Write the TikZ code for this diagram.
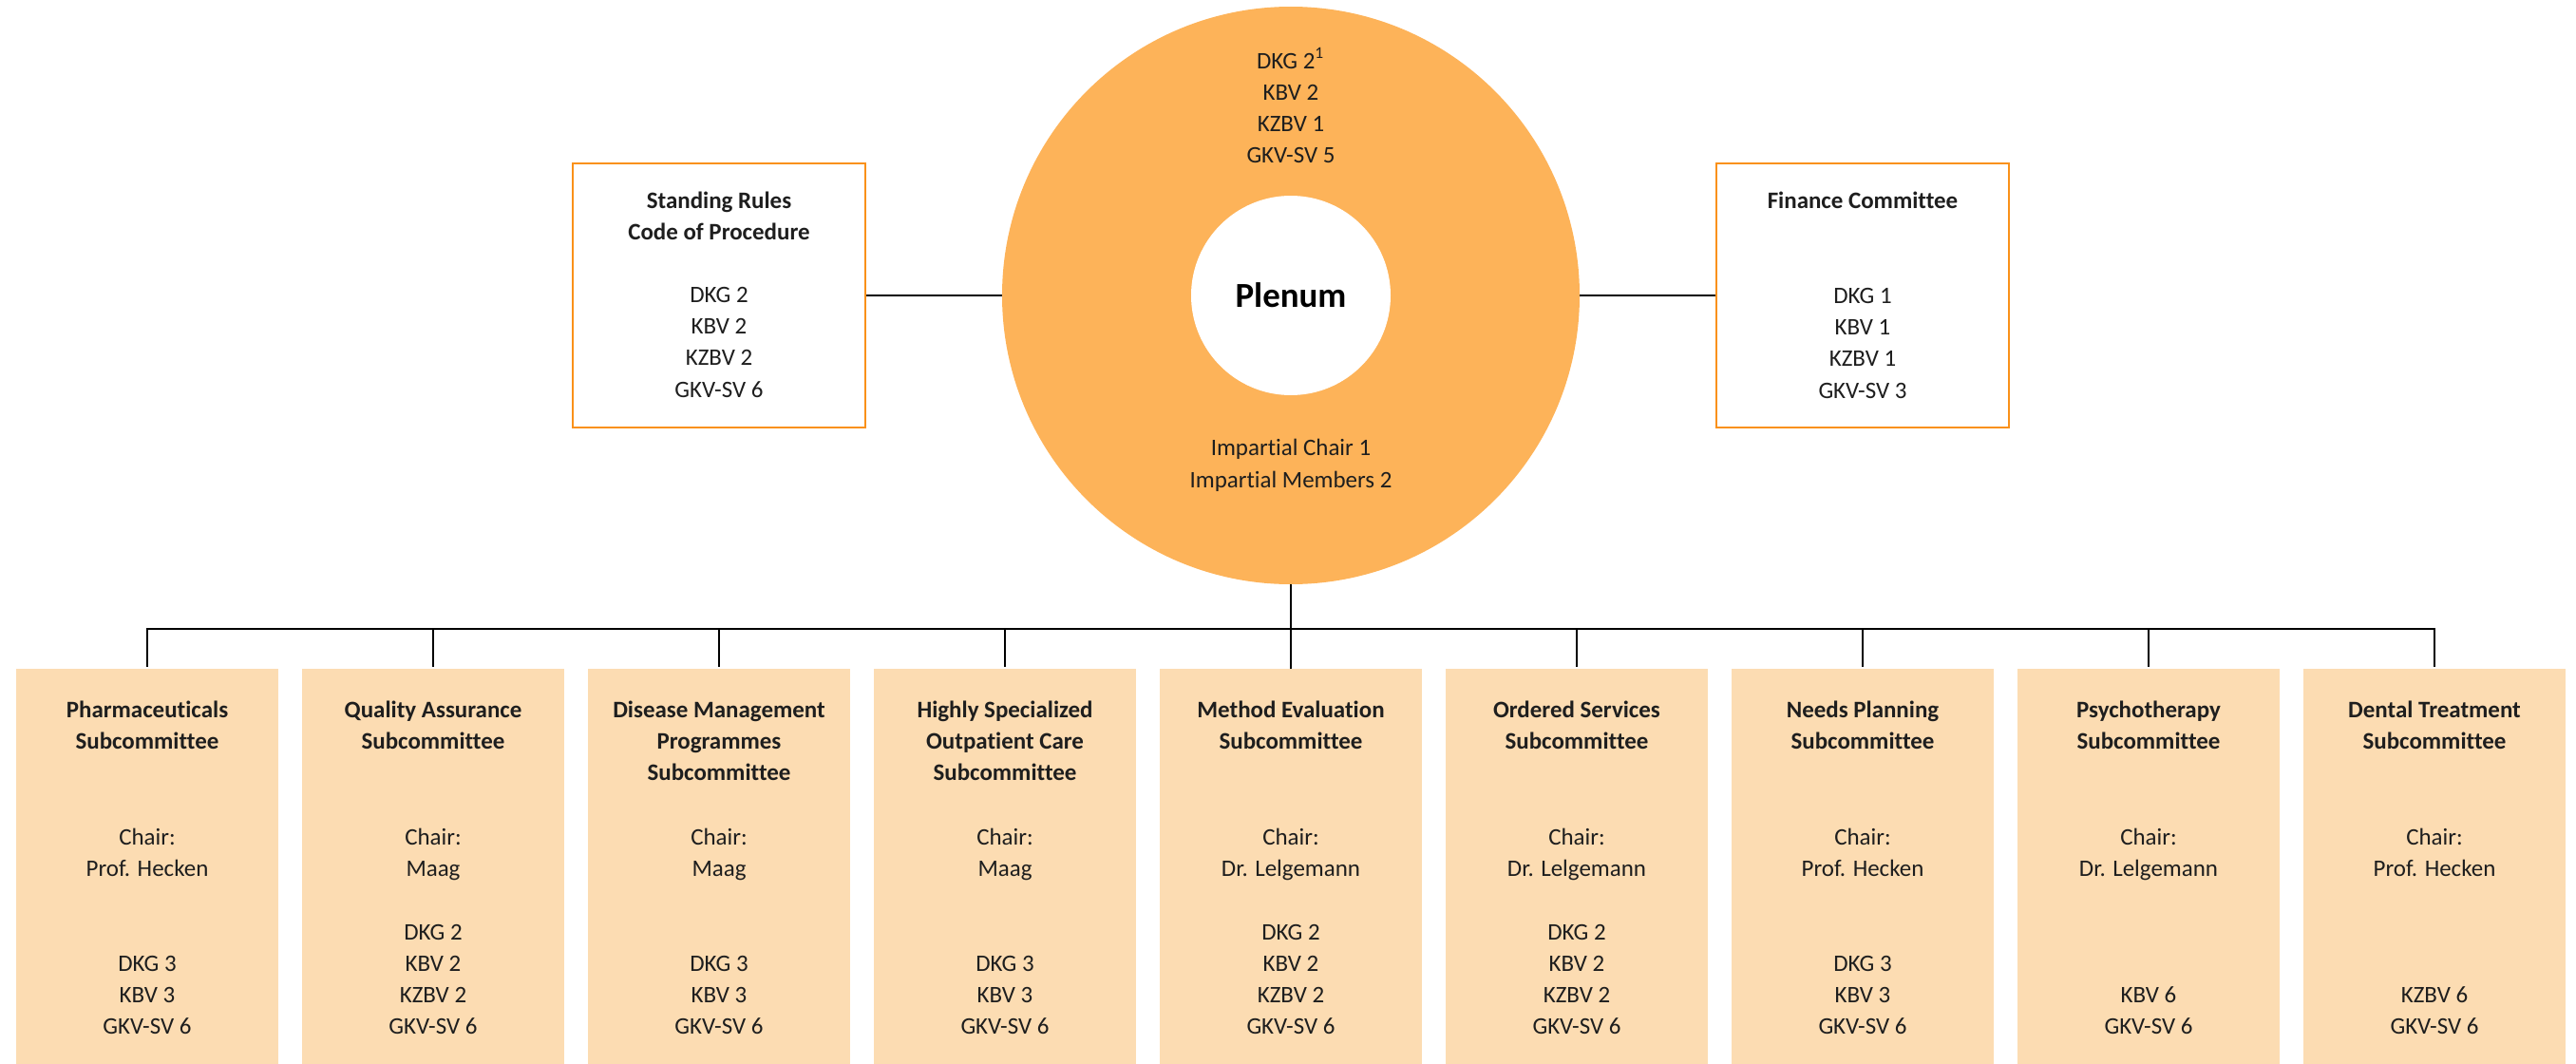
\documentclass[tikz,border=0pt]{standalone}
\usepackage{fontspec}
\setmainfont[Ligatures=NoCommon]{Carlito}
\usepackage{tikz}

\definecolor{plenumorange}{RGB}{253,179,89}
\definecolor{frameorange}{RGB}{250,145,25}
\definecolor{subpeach}{RGB}{252,220,178}
\definecolor{inktext}{RGB}{30,30,30}

\begin{document}
\begin{tikzpicture}[font=\fontsize{7.1}{9.4}\selectfont, text=inktext,
  ring/.style={circle, fill=plenumorange, minimum size=6.08cm, inner sep=0, outer sep=0},
  hole/.style={circle, fill=white, minimum size=2.1cm, inner sep=0},
  frame/.style={draw=frameorange, line width=0.8pt, fill=white, minimum width=3.08cm, minimum height=2.78cm, inner sep=0},
  sub/.style={fill=subpeach, minimum width=2.76cm, minimum height=4.16cm, inner sep=0, outer sep=0, anchor=north},
  head/.style={align=center, inner sep=0, anchor=north, font=\fontsize{7.1}{9.4}\selectfont\bfseries},
  body/.style={align=center, inner sep=0},
  link/.style={draw=black, line width=0.6pt}]
%\draw[help lines] (0,0) grid (27,-11);
\useasboundingbox (0,0) rectangle (27.12,-11.2);

% plenum
\node (ring) [ring] at (13.59,-3.11) {};
\node (plenum) [hole, text=black, font=\fontsize{10.5}{12}\selectfont\bfseries] at (13.59,-3.11) {Plenum};
\node (ringseats) [body, anchor=north] at (13.59,-0.50) {DKG 2\textsuperscript{1}\\KBV 2\\KZBV 1\\GKV-SV 5};
\node (impartial) [body, anchor=north, font=\fontsize{7.1}{9.7}\selectfont] at (13.59,-4.61) {Impartial Chair 1\\Impartial Members 2};

% side committees
\node (rules) [frame] at (7.57,-3.11) {};
\node (ruleshead) [head] at (7.57,-2.01) {Standing Rules\\Code of Procedure};
\node (rulesseats) [body, anchor=north] at (7.57,-3.02) {DKG 2\\KBV 2\\KZBV 2\\GKV-SV 6};
\node (finance) [frame] at (19.61,-3.11) {};
\node (financehead) [head] at (19.61,-2.01) {Finance Committee};
\node (financeseats) [body, anchor=north] at (19.61,-3.03) {DKG 1\\KBV 1\\KZBV 1\\GKV-SV 3};

% subcommittees
\node (pharma) [sub] at (1.55,-7.04) {};
\node (pharmahead) [head] at (1.55,-7.37) {Pharmaceuticals\\Subcommittee};
\node (pharmachair) [body, anchor=north] at (1.55,-8.71) {Chair:\\Prof. Hecken};
\node (pharmaseats) [body, anchor=south] at (1.55,-10.89) {DKG 3\\KBV 3\\GKV-SV 6};

\node (quality) [sub] at (4.56,-7.04) {};
\node (qualityhead) [head] at (4.56,-7.37) {Quality Assurance\\Subcommittee};
\node (qualitychair) [body, anchor=north] at (4.56,-8.71) {Chair:\\Maag};
\node (qualityseats) [body, anchor=south] at (4.56,-10.89) {DKG 2\\KBV 2\\KZBV 2\\GKV-SV 6};

\node (dmp) [sub] at (7.57,-7.04) {};
\node (dmphead) [head] at (7.57,-7.37) {Disease Management\\Programmes\\Subcommittee};
\node (dmpchair) [body, anchor=north] at (7.57,-8.71) {Chair:\\Maag};
\node (dmpseats) [body, anchor=south] at (7.57,-10.89) {DKG 3\\KBV 3\\GKV-SV 6};

\node (asv) [sub] at (10.58,-7.04) {};
\node (asvhead) [head] at (10.58,-7.37) {Highly Specialized\\Outpatient Care\\Subcommittee};
\node (asvchair) [body, anchor=north] at (10.58,-8.71) {Chair:\\Maag};
\node (asvseats) [body, anchor=south] at (10.58,-10.89) {DKG 3\\KBV 3\\GKV-SV 6};

\node (method) [sub] at (13.59,-7.04) {};
\node (methodhead) [head] at (13.59,-7.37) {Method Evaluation\\Subcommittee};
\node (methodchair) [body, anchor=north] at (13.59,-8.71) {Chair:\\Dr. Lelgemann};
\node (methodseats) [body, anchor=south] at (13.59,-10.89) {DKG 2\\KBV 2\\KZBV 2\\GKV-SV 6};

\node (ordered) [sub] at (16.60,-7.04) {};
\node (orderedhead) [head] at (16.60,-7.37) {Ordered Services\\Subcommittee};
\node (orderedchair) [body, anchor=north] at (16.60,-8.71) {Chair:\\Dr. Lelgemann};
\node (orderedseats) [body, anchor=south] at (16.60,-10.89) {DKG 2\\KBV 2\\KZBV 2\\GKV-SV 6};

\node (needs) [sub] at (19.61,-7.04) {};
\node (needshead) [head] at (19.61,-7.37) {Needs Planning\\Subcommittee};
\node (needschair) [body, anchor=north] at (19.61,-8.71) {Chair:\\Prof. Hecken};
\node (needsseats) [body, anchor=south] at (19.61,-10.89) {DKG 3\\KBV 3\\GKV-SV 6};

\node (psycho) [sub] at (22.62,-7.04) {};
\node (psychohead) [head] at (22.62,-7.37) {Psychotherapy\\Subcommittee};
\node (psychochair) [body, anchor=north] at (22.62,-8.71) {Chair:\\Dr. Lelgemann};
\node (psychoseats) [body, anchor=south] at (22.62,-10.89) {KBV 6\\GKV-SV 6};

\node (dental) [sub] at (25.63,-7.04) {};
\node (dentalhead) [head] at (25.63,-7.37) {Dental Treatment\\Subcommittee};
\node (dentalchair) [body, anchor=north] at (25.63,-8.71) {Chair:\\Prof. Hecken};
\node (dentalseats) [body, anchor=south] at (25.63,-10.89) {KZBV 6\\GKV-SV 6};

% connectors
\coordinate (bus) at (13.59,-6.62);
\path[link]
(rules) edge (ring)
(ring) edge (finance)
(ring) edge (method);
\draw[link] ([yshift=0.02cm]pharma.north) |- (bus) -| ([yshift=0.02cm]dental.north);
\path[link]
(bus -| quality.north) edge ([yshift=0.02cm]quality.north)
(bus -| dmp.north) edge ([yshift=0.02cm]dmp.north)
(bus -| asv.north) edge ([yshift=0.02cm]asv.north)
(bus -| ordered.north) edge ([yshift=0.02cm]ordered.north)
(bus -| needs.north) edge ([yshift=0.02cm]needs.north)
(bus -| psycho.north) edge ([yshift=0.02cm]psycho.north);
\end{tikzpicture}
\end{document}
